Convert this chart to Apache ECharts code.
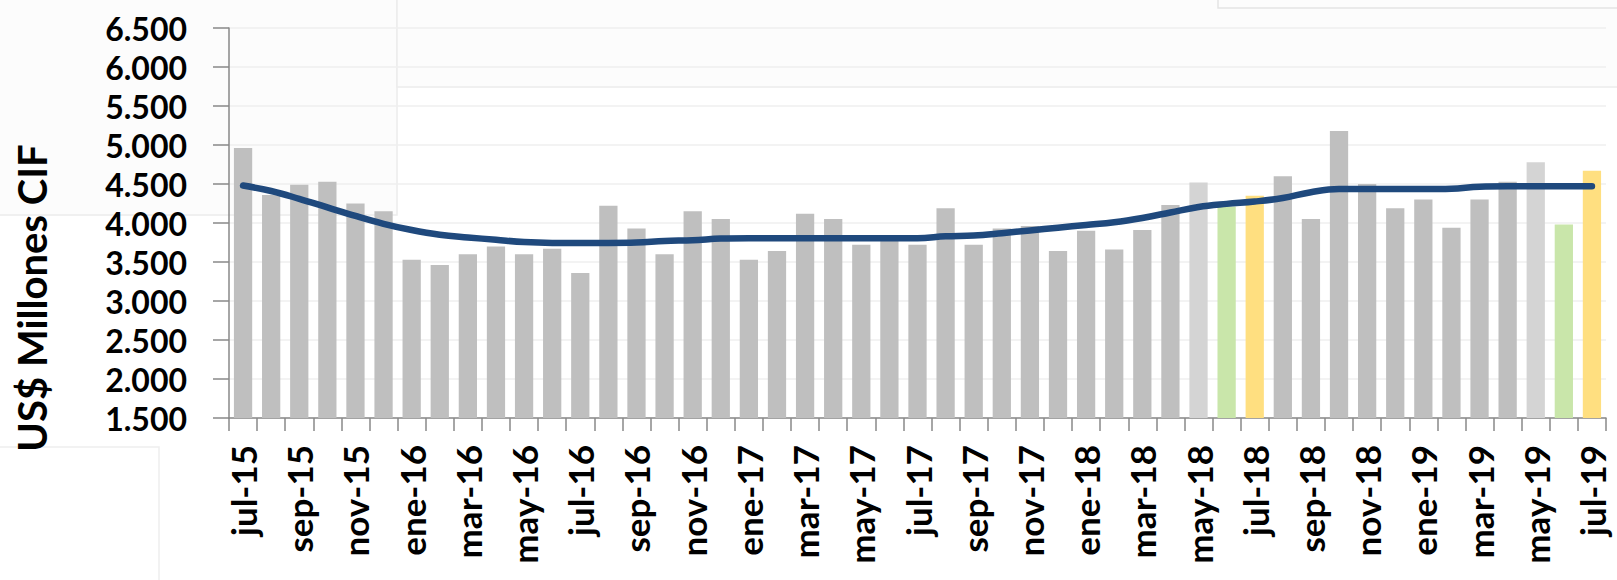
<!DOCTYPE html>
<html>
<head>
<meta charset="utf-8">
<script src="https://cdn.jsdelivr.net/npm/echarts@6/dist/echarts.min.js"></script>
<style>
html,body{margin:0;padding:0;background:#fff;}
#c{width:1617px;height:580px;}
</style>
</head>
<body>
<div id="c"></div>
<script>
// ---- data ----
const categories = [
  'jul-15','ago-15','sep-15','oct-15','nov-15','dic-15',
  'ene-16','feb-16','mar-16','abr-16','may-16','jun-16','jul-16','ago-16','sep-16','oct-16','nov-16','dic-16',
  'ene-17','feb-17','mar-17','abr-17','may-17','jun-17','jul-17','ago-17','sep-17','oct-17','nov-17','dic-17',
  'ene-18','feb-18','mar-18','abr-18','may-18','jun-18','jul-18','ago-18','sep-18','oct-18','nov-18','dic-18',
  'ene-19','feb-19','mar-19','abr-19','may-19','jun-19','jul-19'
];
const imports = [
  4960,4360,4490,4530,4250,4150,
  3530,3460,3600,3700,3600,3670,3360,4220,3930,3600,4150,4050,
  3530,3640,4120,4050,3720,3780,3720,4190,3720,3930,3960,3640,
  3900,3660,3910,4230,4520,4210,4350,4600,4050,5180,4500,4190,
  4300,3940,4300,4530,4780,3980,4670
];
const trend = [
  4480,4410,4310,4200,4090,3990,
  3910,3850,3815,3785,3755,3745,3745,3745,3750,3770,3780,3800,
  3805,3805,3805,3805,3805,3805,3805,3830,3840,3870,3905,3940,
  3975,4010,4065,4135,4205,4245,4275,4320,4395,4435,4435,4435,
  4435,4440,4465,4470,4470,4470,4470
];
const yTicks = { min: 1500, max: 6500, step: 500 };
const yTitle = 'US$ Millones CIF';

// ---- styles ----
const FONT = 'Lato';
const GRAY = '#bfbfbf';
const specialColors = { 34:'#d4d4d4', 35:'#c9e6aa', 36:'#ffdf80', 46:'#d4d4d4', 47:'#c9e6aa', 48:'#ffdf80' };

const chart = echarts.init(document.getElementById('c'), null, { renderer: 'svg' });
chart.setOption({
  backgroundColor: '#ffffff',
  animation: false,
  grid: { left: 229, right: 11, top: 28, bottom: 162, containLabel: false },
  graphic: [
    { type:'rect', z:-10, shape:{x:-2,y:-2,width:399,height:217}, style:{fill:'#fcfcfc', stroke:'#ececec', lineWidth:1.5} },
    { type:'rect', z:-10, shape:{x:397,y:-2,width:1230,height:89}, style:{fill:'#fcfcfc', stroke:'#ececec', lineWidth:1.5} },
    { type:'rect', z:-9, shape:{x:1218,y:-4,width:410,height:12}, style:{fill:'#fcfcfc', stroke:'#e4e4e4', lineWidth:1.5} },
    { type:'rect', z:-10, shape:{x:-2,y:447,width:161,height:140}, style:{fill:'#ffffff', stroke:'#eeeeee', lineWidth:1.5} },
    { type:'text', z:10, x:32, y:298, rotation: Math.PI/2,
      style:{ text: yTitle, font: 'bold 40px ' + FONT, fill:'#000', textAlign:'center', textVerticalAlign:'middle' } }
  ],
  xAxis: {
    type: 'category',
    data: categories,
    boundaryGap: true,
    axisLine: { show: true, lineStyle: { color: '#898989', width: 1.5 } },
    axisTick: { show: true, interval: 0, length: 13, lineStyle: { color: '#898989', width: 1.5 } },
    axisLabel: { interval: 1, rotate: 90, margin: 27, color: '#000', fontFamily: FONT, fontWeight: 'bold', fontSize: 35, lineHeight: 35 },
    splitLine: { show: false }
  },
  yAxis: {
    type: 'value',
    min: yTicks.min, max: yTicks.max, interval: yTicks.step,
    axisLine: { show: true, lineStyle: { color: '#898989', width: 1.5 } },
    axisTick: { show: true, length: 16, lineStyle: { color: '#898989', width: 1.5 } },
    axisLabel: {
      margin: 42, color: '#000', fontFamily: FONT, fontWeight: 'bold', fontSize: 32, lineHeight: 32,
      formatter: v => v.toLocaleString('de-DE')
    },
    splitLine: { show: true, lineStyle: { color: '#efefef', width: 1.5 } }
  },
  series: [
    {
      type: 'bar',
      data: imports,
      barWidth: '65%',
      itemStyle: { color: p => specialColors[p.dataIndex] || GRAY }
    },
    {
      type: 'line',
      data: trend,
      smooth: 0.4,
      showSymbol: false,
      symbol: 'none',
      lineStyle: { color: '#1f497d', width: 6.5, cap: 'round', join: 'round' },
      z: 5
    }
  ]
});
</script>
</body>
</html>
